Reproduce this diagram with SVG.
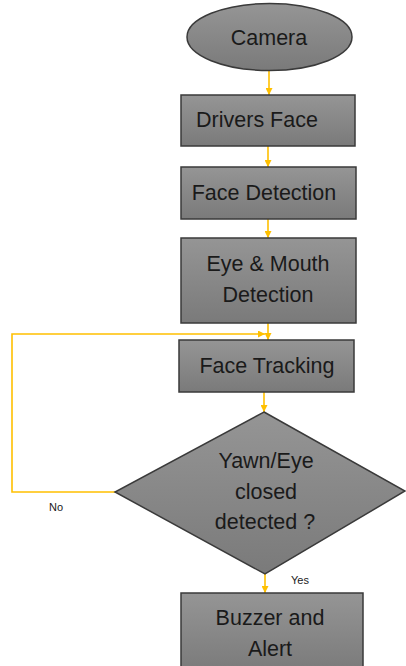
<svg xmlns="http://www.w3.org/2000/svg" width="406" height="666" viewBox="0 0 406 666">
<defs>
<linearGradient id="g" x1="0" y1="0" x2="0" y2="1">
<stop offset="0" stop-color="#959595"/>
<stop offset="1" stop-color="#7a7a7a"/>
</linearGradient>
<marker id="ah2" viewBox="0 0 10 10" refX="10" refY="5" markerWidth="7" markerHeight="7" orient="auto" markerUnits="userSpaceOnUse">
<path d="M0,0 L10,5 L0,10 z" fill="#FFC000"/>
</marker>
<style>
.n{fill:url(#g);stroke:#3a3a3a;stroke-width:1.5}
.t{font-family:"Liberation Sans",Arial,sans-serif;font-size:21.5px;fill:#1a1a1a;text-anchor:middle;dominant-baseline:central}
.s{font-family:"Liberation Sans",Arial,sans-serif;font-size:11px;fill:#1a1a1a;text-anchor:middle;dominant-baseline:central}
.c{fill:none;stroke:#FFC000;stroke-width:1.6;marker-end:url(#ah2)}
</style>
</defs>
<rect width="406" height="666" fill="#ffffff"/>
<g id="connectors">
<path class="c" d="M269,71 L269,95"/>
<path class="c" d="M268,146 L268,167"/>
<path class="c" d="M268,219 L268,238"/>
<path class="c" d="M268,323 L268,340"/>
<path class="c" d="M115,492 L12,492 L12,334 L265,334"/>
<path class="c" d="M264,392 L264,412"/>
<path class="c" d="M265,574 L265,593"/>
<text class="s" x="56" y="507" font-size="12">No</text>
<text class="s" x="300" y="580">Yes</text>
</g>
<g id="camera">
<ellipse class="n" cx="269.5" cy="37" rx="82.5" ry="33.5"/>
<text class="t" x="269" y="38">Camera</text>
</g>
<g id="drivers-face">
<rect class="n" x="181" y="95" width="174" height="51"/>
<text class="t" x="257" y="120">Drivers Face</text>
</g>
<g id="face-detection">
<rect class="n" x="181" y="167" width="175" height="52"/>
<text class="t" x="264" y="193">Face Detection</text>
</g>
<g id="eye-mouth">
<rect class="n" x="181" y="238" width="175" height="85"/>
<text class="t" x="268" y="264">Eye &amp; Mouth</text>
<text class="t" x="268" y="295">Detection</text>
</g>
<g id="face-tracking">
<rect class="n" x="179" y="340" width="175" height="52"/>
<text class="t" x="267" y="366">Face Tracking</text>
</g>
<g id="decision">
<polygon class="n" points="264,412 405,491 265,574 115,492"/>
<text class="t" x="266" y="461">Yawn/Eye</text>
<text class="t" x="266" y="492">closed</text>
<text class="t" x="265" y="522">detected ?</text>
</g>
<g id="buzzer">
<rect class="n" x="181" y="593" width="182" height="80"/>
<text class="t" x="270" y="618">Buzzer and</text>
<text class="t" x="270" y="649">Alert</text>
</g>
</svg>
